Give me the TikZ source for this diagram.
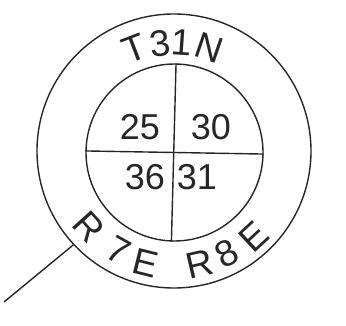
\documentclass[tikz,border=0pt]{standalone}
\usepackage{fontspec}
\setmainfont{Liberation Sans}
\usetikzlibrary{calc}
\definecolor{ink}{gray}{0.15}
\begin{document}
\begin{tikzpicture}[x=1pt,y=1pt, line width=1.4pt, draw=ink, text=ink,
  ring/.style={circle, draw, inner sep=0pt},
  num/.style={inner sep=0pt, font=\fontsize{36}{36}\selectfont},
  lab/.style={inner sep=0pt, font=\fontsize{37}{37}\selectfont}]
\useasboundingbox (0,0) rectangle (346,325);
\coordinate (c) at (174,174);
\node[ring, minimum size=274pt] (outer) at (c) {};
\node[ring, minimum size=177pt] (inner) at (174.5,172.5) {};
\draw (inner.89) -- (inner.268);
\draw (inner.179) -- (inner.359);
\node[num] (n25) at (140,197.5) {25};
\node[num] (n30) at (211,197.5) {30};
\node[num] (n36) at (145,148) {36};
\node[num] (n31) at (197,148) {31};
% top label T31N
\node[lab, rotate=21] (t1) at ($(c)+(111:110)$) {T};
\node[lab, rotate=7] (t2) at ($(c)+(97.5:108)$) {3};
\node[lab, rotate=-4] (t3) at ($(c)+(86:109)$) {1};
\node[lab, rotate=-19] (t4) at ($(c)+(71:109)$) {N};
% bottom label R7E R8E
\node[lab, rotate=312] (b1) at ($(c)+(222:114)$) {R};
\node[lab, rotate=331] (b2) at ($(c)+(241:114)$) {7};
\node[lab, rotate=346] (b3) at ($(c)+(256:116)$) {E};
\node[lab, rotate=13] (b4) at ($(c)+(283:116)$) {R};
\node[lab, rotate=27.5] (b5) at ($(c)+(297.5:115)$) {8};
\node[lab, rotate=43] (b6) at ($(c)+(313:117)$) {E};
\coordinate (tail) at (4,23);
\draw (outer.223) -- (tail);
\end{tikzpicture}
\end{document}
